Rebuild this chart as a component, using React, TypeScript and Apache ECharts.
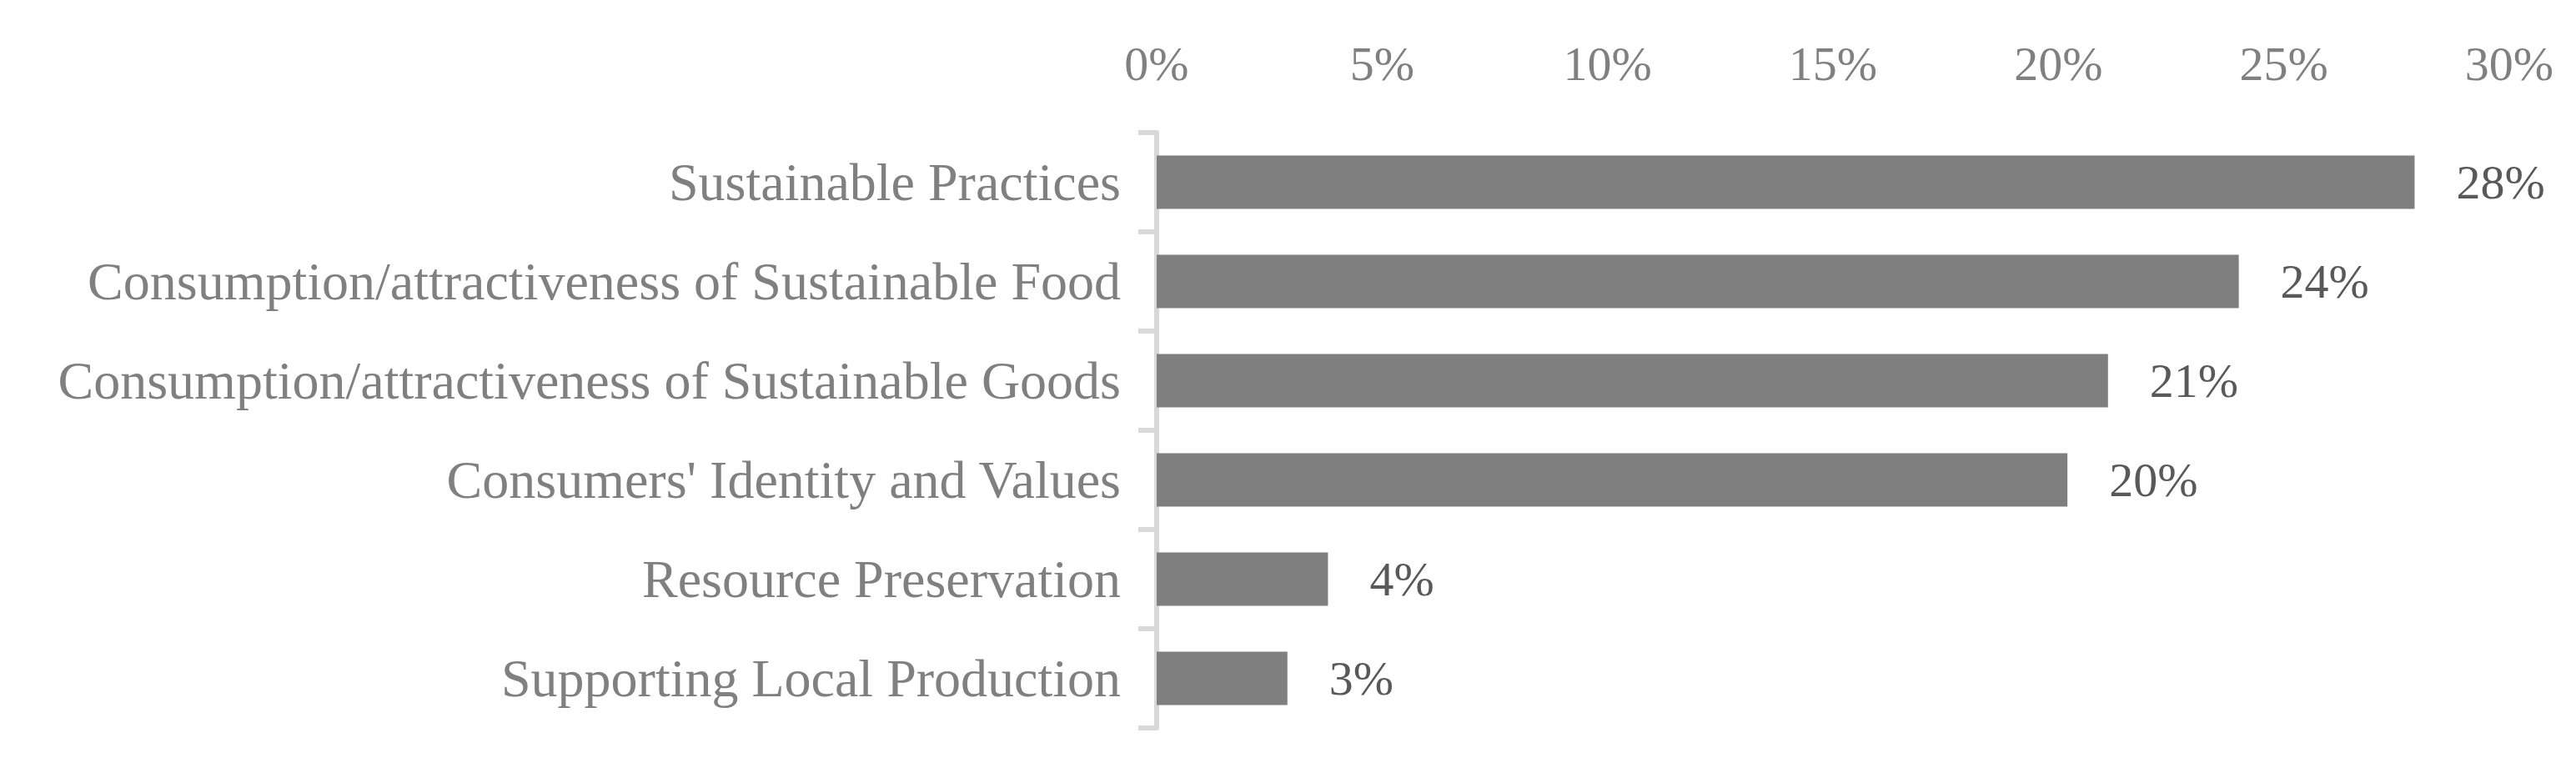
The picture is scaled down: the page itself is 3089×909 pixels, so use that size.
import React, { useEffect, useRef } from "react";
import * as echarts from "echarts";

const categories = [
  "Sustainable Practices",
  "Consumption/attractiveness of Sustainable Food",
  "Consumption/attractiveness of Sustainable Goods",
  "Consumers' Identity and Values",
  "Resource Preservation",
  "Supporting Local Production",
];
const values = [27.9, 24.0, 21.1, 20.2, 3.8, 2.9];
const xTicks = [0, 5, 10, 15, 20, 25, 30];

export default function App() {
  const ref = useRef<HTMLDivElement>(null);
  useEffect(() => {
    document.body.style.margin = "0";
    if (!ref.current) return;
    const chart = echarts.init(ref.current, null, { renderer: "svg" });
    chart.setOption({
      animation: false,
      backgroundColor: "#ffffff",
      grid: { left: 1387, right: 80, top: 159, bottom: 36, containLabel: false },
      xAxis: {
        type: "value",
        position: "top",
        min: xTicks[0],
        max: xTicks[xTicks.length - 1],
        interval: 5,
        axisLine: { show: false },
        axisTick: { show: false },
        splitLine: { show: false },
        axisLabel: {
          formatter: (v: number) => `${v}%`,
          color: "#808080",
          fontFamily: "Liberation Serif",
          fontSize: 58,
          margin: 54,
        },
      },
      yAxis: {
        type: "category",
        inverse: true,
        data: categories,
        axisLine: { show: true, lineStyle: { color: "#d9d9d9", width: 6 } },
        axisTick: { show: true, length: 22, lineStyle: { color: "#d9d9d9", width: 6 } },
        axisLabel: {
          color: "#808080",
          fontFamily: "Liberation Serif",
          fontSize: 64,
          margin: 43,
        },
      },
      series: [
        {
          type: "bar",
          data: values,
          barWidth: 64,
          itemStyle: { color: "#7f7f7f" },
          label: {
            show: true,
            position: "right",
            distance: 50,
            formatter: (p: any) => `${Math.round(p.value)}%`,
            color: "#595959",
            fontFamily: "Liberation Serif",
            fontSize: 58,
          },
        },
      ],
    });
    return () => chart.dispose();
  }, []);
  return <div ref={ref} style={{ width: 3089, height: 909 }} />;
}
